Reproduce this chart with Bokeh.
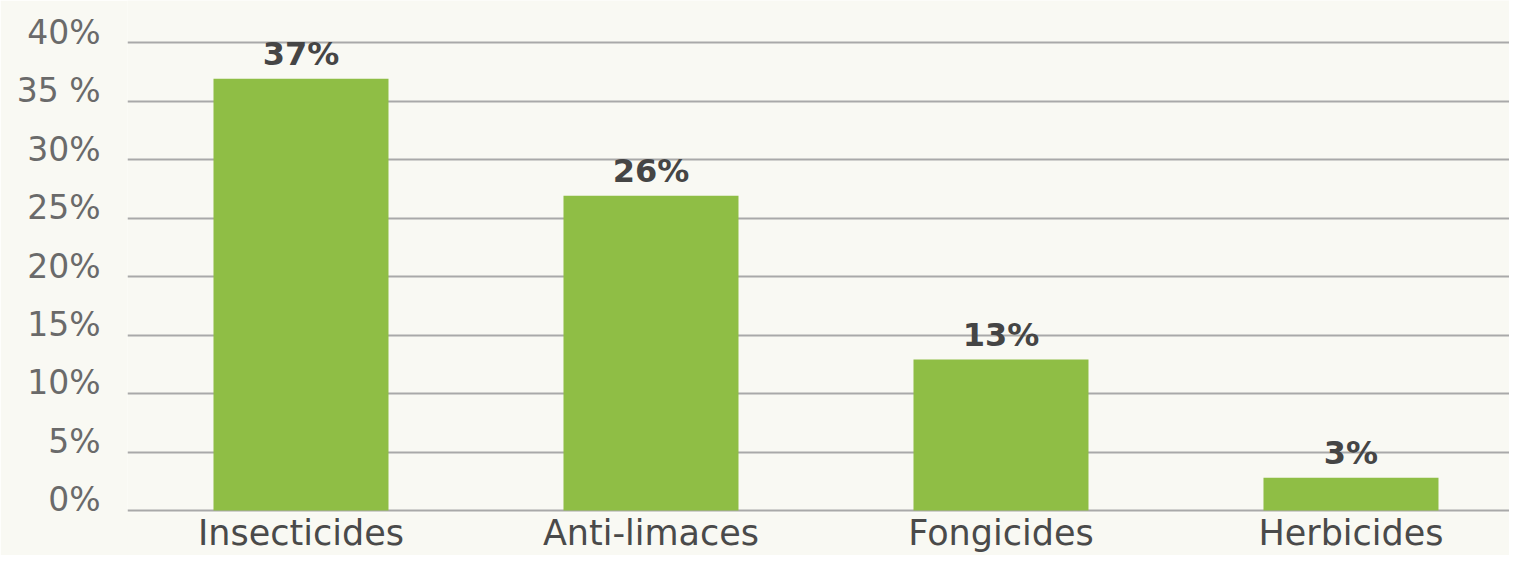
from bokeh.plotting import figure
from bokeh.models import ColumnDataSource, Range1d, FixedTicker
from bokeh.core.properties import value
from bokeh.embed import file_html
from bokeh.resources import INLINE

categories = ["Insecticides", "Anti-limaces", "Fongicides", "Herbicides"]
bar_values = [36.9, 26.9, 12.9, 2.8]
bar_labels = ["37%", "26%", "13%", "3%"]
y_ticks = [0, 5, 10, 15, 20, 25, 30, 35, 40]
y_tick_labels = ["0%", "5%", "10%", "15%", "20%", "25%", "30%", "35 %", "40%"]

BG = "#f9f9f3"
GREEN = "#8fbe45"
FONT = "DejaVu Sans"
LABEL_LIFT = 0.9   # tick labels sit just above their gridlines
VALUE_GAP = 2.1    # bar top to centre of its value label

idx = list(range(len(categories)))
src = ColumnDataSource(dict(x=idx, top=bar_values, label=bar_labels,
                            ly=[v + VALUE_GAP for v in bar_values]))

p = figure(width=1509, height=555, output_backend="svg", toolbar_location=None,
           x_range=Range1d(-0.4957, 3.4529), y_range=Range1d(-0.171, 43.597),
           min_border_left=127, min_border_right=0, min_border_top=0, min_border_bottom=0)
p.background_fill_color = BG
p.border_fill_color = BG
p.outline_line_color = None

p.vbar(x="x", top="top", width=0.5, bottom=0, source=src, color=GREEN, line_color=None)
p.text(x="x", y="ly", text="label", source=src, text_align="center",
       text_baseline="middle", text_font=value(FONT),
       text_font_style="bold", text_font_size="32px", text_color="#454545")

# grid
p.xgrid.grid_line_color = None
p.ygrid.ticker = FixedTicker(ticks=y_ticks)
p.ygrid.grid_line_color = "#a9a9a9"
p.ygrid.grid_line_width = 2

# y axis
p.yaxis.ticker = FixedTicker(ticks=[t + LABEL_LIFT for t in y_ticks])
p.yaxis.major_label_overrides = {t + LABEL_LIFT: l for t, l in zip(y_ticks, y_tick_labels)}
p.yaxis.axis_line_color = None
p.yaxis.major_tick_line_color = None
p.yaxis.minor_tick_line_color = None
p.yaxis.major_tick_out = 0
p.yaxis.minor_tick_out = 0
p.yaxis.major_label_standoff = 27
p.yaxis.major_label_text_font = FONT
p.yaxis.major_label_text_font_size = "33px"
p.yaxis.major_label_text_color = "#6a6a6a"

# x axis
p.xaxis.ticker = FixedTicker(ticks=idx)
p.xaxis.major_label_overrides = {i: c for i, c in zip(idx, categories)}
p.xaxis.axis_line_color = None
p.xaxis.major_tick_line_color = None
p.xaxis.minor_tick_line_color = None
p.xaxis.major_tick_out = 0
p.xaxis.minor_tick_out = 0
p.xaxis.major_label_standoff = 0
p.xaxis.major_label_text_font = FONT
p.xaxis.major_label_text_font_size = "35px"
p.xaxis.major_label_text_color = "#4a4a4a"

open("out.html", "w").write(file_html(p, INLINE))
